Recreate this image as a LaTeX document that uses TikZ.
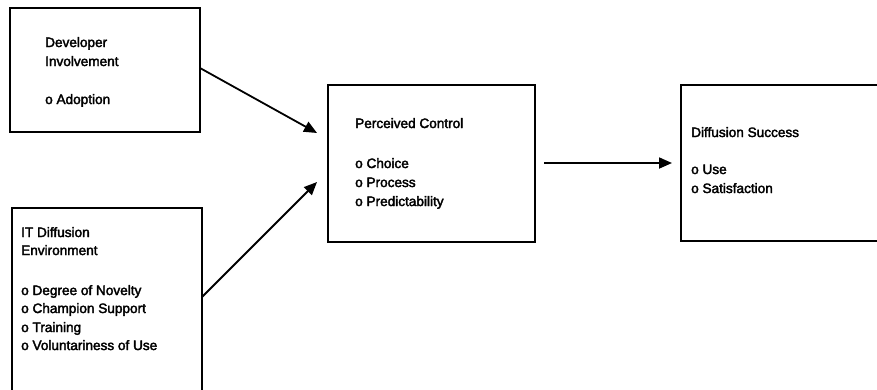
\documentclass[tikz,border=0pt]{standalone}
\usepackage{fontspec}
\setmainfont{Liberation Sans}[FakeBold=2.5]
\usetikzlibrary{arrows.meta}
\begin{document}
\begin{tikzpicture}[x=1pt,y=-1pt,
  box/.style={draw=black,line width=1.8pt,fill=none,inner sep=0pt,outer sep=0pt,anchor=north west},
  txt/.style={anchor=base west,inner sep=0pt,font=\fontsize{13.6}{18}\selectfont},
  link/.style={line width=1.8pt,-{Triangle[length=13pt,width=11pt]}}]
\useasboundingbox (0,0) rectangle (877,389);
\clip (0,0) rectangle (877,389);
% boxes
\node[box,minimum width=190pt,minimum height=124pt] (dev) at (10,8) {};
\node[box,minimum width=190pt,minimum height=200pt] (env) at (12,208) {};
\node[box,minimum width=207pt,minimum height=157pt] (pc) at (328,85) {};
\node[box,minimum width=215pt,minimum height=156pt] (ds) at (681,85) {};
% Developer Involvement
\node[txt] (d1) at (45,47) {Developer};
\node[txt] (d2) at (45,66) {Involvement};
\node[txt] (d3) at (45,104) {o Adoption};
% IT Diffusion Environment
\node[txt] (e1) at (21,237) {IT Diffusion};
\node[txt] (e2) at (21,255) {Environment};
\node[txt] (e3) at (21,295) {o Degree of Novelty};
\node[txt] (e4) at (21,313) {o Champion Support};
\node[txt] (e5) at (21,332) {o Training};
\node[txt] (e6) at (21,350) {o Voluntariness of Use};
% Perceived Control
\node[txt] (p1) at (355,128) {Perceived Control};
\node[txt] (p2) at (355,168) {o Choice};
\node[txt] (p3) at (355,187) {o Process};
\node[txt] (p4) at (355,206) {o Predictability};
% Diffusion Success
\node[txt] (s1) at (691,137) {Diffusion Success};
\node[txt] (s2) at (691,174) {o Use};
\node[txt] (s3) at (691,193) {o Satisfaction};
% connectors
\coordinate (a1s) at (200,68);
\coordinate (a1e) at (317,133);
\coordinate (a2s) at (202,297);
\coordinate (a2e) at (317,182);
\coordinate (a3s) at (544,163);
\coordinate (a3e) at (672,163);
\draw[link] (a1s) -- (a1e);
\draw[link] (a2s) -- (a2e);
\draw[link] (a3s) -- (a3e);
\end{tikzpicture}
\end{document}
